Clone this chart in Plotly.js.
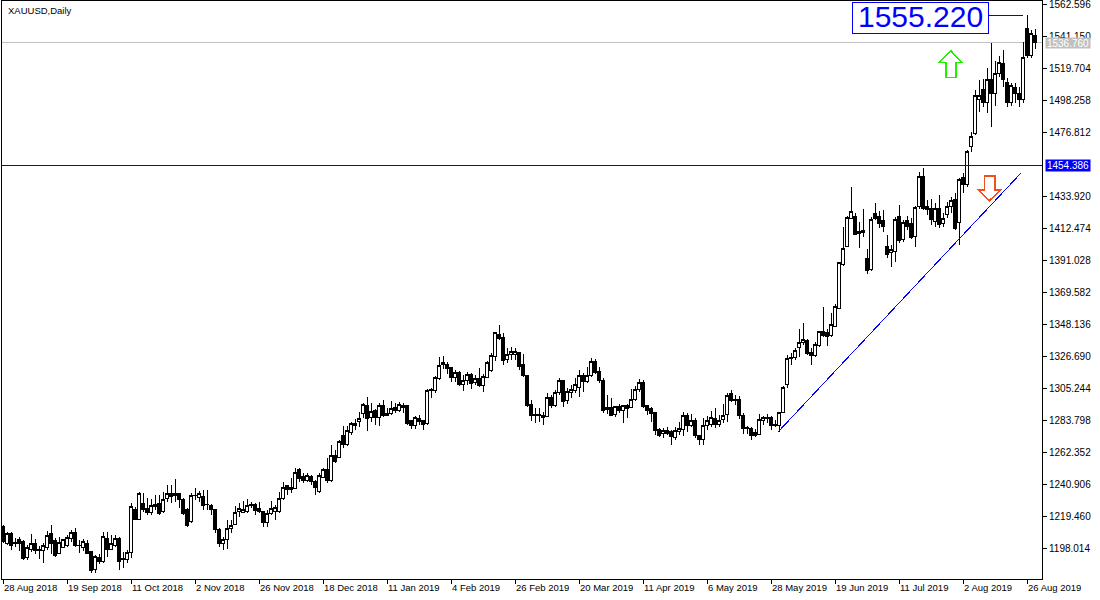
<!DOCTYPE html>
<html><head><meta charset="utf-8">
<script src="https://cdn.plot.ly/plotly-3.0.1.min.js"></script>
<style>
html,body{margin:0;padding:0;background:#fff;}
#chart{width:1100px;height:600px;}
#chart svg path{shape-rendering:crispEdges;}
</style>
</head><body><div id="chart"></div>
<script>
// XAUUSD daily candles, bar 0 = 28 Aug 2018
const openP = [
1212.3,1201.1,1207.4,1201.6,1203.8,1202.3,1191.8,1196.7,1200.7,1196.9,
1196.2,1198.5,1207.4,1202.9,1194.4,1198.5,1200.0,1204.5,1208.3,1200.0,
1198.5,1201.1,1195.6,1183.3,1191.5,1188.9,1204.5,1197.1,1200.0,1204.5,
1190.0,1190.0,1194.9,1223.9,1217.2,1228.0,1224.6,1221.7,1225.7,1228.0,
1222.4,1231.3,1234.6,1232.9,1234.6,1230.2,1223.9,1215.7,1232.9,1232.0,
1232.4,1227.0,1226.8,1223.5,1210.5,1201.1,1203.4,1211.2,1214.1,1222.4,
1221.7,1222.4,1227.5,1227.5,1224.6,1222.4,1215.0,1221.2,1222.4,1222.4,
1231.3,1239.6,1237.3,1238.0,1250.7,1245.8,1243.1,1245.8,1242.5,1235.8,
1245.4,1250.3,1243.1,1260.3,1258.8,1273.1,1267.7,1275.3,1280.4,1282.7,
1288.3,1293.8,1285.6,1290.0,1285.6,1293.8,1288.3,1288.3,1292.3,1290.5,
1292.3,1293.2,1283.4,1280.4,1284.9,1283.4,1281.6,1303.5,1303.5,1311.7,
1321.3,1321.3,1319.1,1312.4,1315.5,1307.3,1310.6,1314.6,1308.8,1311.7,
1306.6,1312.4,1316.9,1326.2,1340.8,1339.2,1324.5,1327.4,1328.0,1328.9,
1320.7,1313.9,1294.5,1287.8,1287.8,1286.5,1286.0,1299.0,1293.8,1302.1,
1310.2,1296.7,1302.1,1303.5,1305.7,1313.3,1309.5,1313.9,1322.9,1316.2,
1310.6,1291.0,1292.3,1287.8,1292.7,1290.0,1293.2,1292.3,1297.6,1304.4,
1308.8,1293.2,1291.6,1288.7,1277.1,1274.9,1276.6,1276.0,1272.2,1276.0,
1277.5,1286.5,1280.4,1283.8,1273.1,1270.8,1280.4,1281.1,1284.9,1281.1,
1284.2,1287.8,1301.7,1297.6,1297.6,1287.1,1278.9,1278.2,1275.3,1274.4,
1283.3,1285.0,1285.6,1279.8,1280.4,1288.7,1307.3,1325.1,1325.8,1332.5,
1335.6,1337.0,1328.9,1326.7,1333.4,1343.0,1342.3,1340.7,1346.3,1358.6,
1387.7,1400.4,1418.9,1420.5,1410.0,1410.7,1392.1,1384.8,1422.3,1420.5,
1417.4,1399.9,1395.9,1396.6,1420.5,1404.9,1417.4,1415.2,1406.7,1426.8,
1447.3,1427.2,1425.7,1416.7,1425.7,1415.6,1421.2,1426.8,1431.7,1416.0,
1446.4,1441.3,1467.4,1475.5,1498.7,1505.0,1496.5,1511.7,1502.3,1516.0,
1522.8,1509.9,1496.5,1506.7,1502.3,1498.3,1546.3,1527.8,1541.8
];
const highP = [
1213.4,1209.0,1209.0,1204.5,1205.2,1203.4,1200.0,1207.4,1203.8,1199.4,
1201.1,1209.6,1213.4,1204.5,1205.2,1203.8,1206.7,1210.1,1211.2,1203.4,
1203.8,1203.4,1196.2,1193.3,1194.0,1209.0,1209.0,1206.7,1206.7,1205.6,
1195.6,1196.7,1227.9,1225.7,1235.7,1234.6,1231.3,1230.6,1233.5,1233.5,
1235.8,1240.2,1240.2,1244.0,1235.0,1231.3,1224.6,1234.6,1238.0,1236.0,
1236.9,1236.9,1227.5,1223.9,1211.5,1205.6,1217.0,1216.8,1226.2,1227.9,
1229.7,1230.6,1229.1,1228.4,1229.1,1222.8,1223.5,1229.7,1226.8,1235.8,
1242.5,1240.0,1244.7,1251.4,1251.4,1248.0,1248.0,1246.9,1243.6,1248.5,
1251.4,1258.1,1267.0,1263.7,1270.4,1279.8,1279.8,1282.7,1284.2,1289.4,
1295.4,1299.0,1295.4,1290.9,1295.0,1297.2,1291.6,1296.7,1295.4,1296.1,
1295.4,1293.5,1283.8,1286.5,1287.1,1283.8,1304.4,1305.0,1313.0,1326.2,
1326.7,1322.9,1319.5,1317.3,1316.9,1313.9,1316.2,1315.5,1313.9,1318.4,
1314.6,1323.6,1328.9,1343.0,1347.5,1341.9,1331.8,1332.5,1331.8,1329.6,
1328.0,1314.0,1297.2,1291.6,1291.6,1289.4,1301.7,1300.5,1303.9,1311.7,
1310.6,1305.0,1307.3,1311.7,1317.3,1315.5,1319.1,1325.1,1324.5,1319.1,
1311.7,1300.5,1298.3,1292.8,1294.5,1293.8,1294.5,1304.4,1306.6,1311.0,
1310.6,1293.8,1292.7,1289.4,1278.2,1278.2,1279.3,1277.1,1279.3,1282.7,
1289.4,1288.3,1287.8,1284.9,1274.0,1284.9,1286.5,1290.0,1291.6,1287.1,
1294.5,1301.7,1303.9,1300.5,1299.9,1288.3,1279.8,1279.3,1277.5,1287.8,
1286.5,1287.8,1286.5,1283.8,1289.4,1306.6,1327.5,1328.9,1331.8,1344.6,
1348.6,1338.0,1331.8,1336.3,1343.6,1359.3,1344.6,1355.7,1361.5,1389.9,
1412.9,1420.5,1440.2,1422.3,1416.7,1425.0,1398.2,1419.6,1429.0,1424.1,
1424.5,1407.8,1401.1,1419.6,1427.9,1417.8,1420.5,1418.9,1427.2,1450.0,
1452.6,1431.2,1431.7,1429.0,1434.6,1422.3,1430.1,1433.5,1435.7,1445.8,
1449.1,1464.7,1477.0,1505.0,1511.7,1512.1,1519.5,1536.2,1524.6,1527.8,
1531.8,1512.8,1509.4,1509.4,1506.7,1537.4,1555.22,1545.2,1545.6
];
const lowP = [
1201.1,1200.0,1196.7,1198.5,1196.2,1190.0,1190.0,1195.6,1194.0,1190.4,
1188.2,1196.7,1194.0,1192.2,1194.0,1197.8,1198.5,1202.3,1198.5,1194.4,
1196.2,1194.0,1181.5,1181.0,1187.5,1188.2,1192.2,1196.7,1198.5,1183.3,
1184.4,1187.7,1191.1,1216.8,1216.8,1222.4,1220.1,1220.1,1223.5,1220.1,
1221.2,1229.1,1228.0,1229.1,1224.6,1220.1,1212.3,1214.5,1230.2,1229.0,
1223.5,1223.5,1220.1,1207.8,1199.0,1196.7,1197.5,1207.8,1213.4,1219.0,
1221.2,1221.2,1224.6,1220.1,1221.2,1212.3,1212.3,1220.1,1216.8,1221.7,
1230.2,1233.5,1234.6,1237.3,1242.5,1241.3,1242.5,1240.2,1233.5,1235.1,
1244.7,1241.8,1242.5,1255.2,1258.1,1264.8,1266.4,1273.7,1277.1,1278.9,
1284.9,1276.6,1282.7,1280.4,1279.8,1286.0,1287.0,1287.1,1288.7,1289.4,
1288.7,1280.4,1277.5,1277.5,1280.4,1277.1,1280.4,1298.3,1302.0,1310.6,
1317.8,1314.6,1309.5,1309.5,1306.6,1303.5,1307.3,1304.4,1307.3,1305.7,
1302.8,1311.7,1316.2,1323.6,1337.4,1320.7,1321.8,1324.0,1324.0,1317.3,
1312.8,1292.7,1283.4,1281.6,1282.7,1280.4,1285.6,1291.6,1292.7,1300.5,
1292.7,1294.5,1298.3,1301.7,1299.0,1302.8,1308.8,1312.8,1314.6,1308.8,
1288.3,1287.8,1286.5,1286.0,1288.3,1281.6,1284.9,1291.6,1296.7,1302.8,
1291.6,1287.1,1282.7,1273.7,1272.6,1271.5,1273.7,1267.0,1270.4,1273.7,
1273.1,1276.0,1279.3,1272.0,1267.0,1267.0,1277.1,1279.3,1278.2,1279.3,
1281.6,1282.7,1296.1,1293.8,1284.2,1274.4,1274.4,1270.4,1272.6,1273.7,
1280.4,1282.0,1277.1,1279.3,1276.0,1288.3,1305.0,1320.6,1324.0,1326.2,
1334.1,1327.4,1320.6,1326.2,1332.9,1339.6,1333.4,1339.6,1345.9,1357.9,
1387.0,1399.9,1418.3,1407.8,1398.8,1406.7,1381.6,1383.9,1417.8,1412.2,
1410.0,1392.1,1386.1,1389.9,1402.2,1403.3,1411.1,1404.9,1399.9,1425.0,
1424.5,1421.2,1414.5,1413.4,1412.2,1413.4,1419.0,1422.3,1411.1,1401.1,
1435.7,1440.2,1463.6,1474.8,1490.4,1493.8,1489.3,1480.4,1494.2,1513.9,
1506.7,1493.3,1494.2,1496.0,1493.3,1496.0,1526.2,1526.2,1532.2
];
const closeP = [
1202.3,1207.4,1200.0,1201.2,1201.1,1191.1,1198.5,1200.7,1196.2,1196.5,
1200.0,1206.7,1201.1,1193.3,1201.6,1203.4,1205.2,1208.3,1199.4,1199.6,
1202.3,1194.4,1182.8,1192.2,1188.9,1206.0,1196.7,1201.1,1204.5,1188.9,
1191.1,1194.9,1225.7,1217.2,1234.6,1223.5,1222.0,1226.2,1227.5,1221.2,
1230.6,1234.6,1232.4,1234.6,1230.2,1221.2,1212.8,1233.5,1233.5,1234.6,
1226.8,1227.5,1223.5,1210.1,1201.1,1203.4,1211.2,1213.4,1221.7,1224.6,
1223.9,1226.2,1226.2,1223.0,1222.4,1215.0,1221.2,1224.6,1225.0,1231.3,
1238.7,1237.3,1238.7,1248.5,1244.7,1243.1,1246.3,1242.5,1238.7,1246.3,
1250.3,1243.1,1260.3,1255.9,1269.3,1267.7,1276.6,1281.6,1281.6,1284.9,
1294.5,1284.9,1289.4,1285.6,1293.8,1286.5,1287.1,1291.6,1290.0,1294.5,
1293.8,1281.6,1279.8,1285.6,1282.7,1281.1,1303.5,1304.4,1312.4,1320.0,
1322.2,1318.4,1312.4,1315.5,1307.3,1310.6,1314.6,1308.4,1311.7,1306.6,
1312.8,1322.2,1326.7,1342.3,1338.5,1323.6,1328.0,1329.6,1329.6,1319.5,
1313.3,1293.8,1286.5,1286.5,1286.5,1285.6,1299.0,1293.2,1302.1,1310.2,
1296.1,1302.8,1304.4,1307.3,1313.3,1309.5,1313.9,1322.9,1315.5,1310.2,
1290.5,1292.3,1287.1,1292.7,1290.0,1293.2,1291.6,1297.6,1304.4,1308.8,
1292.7,1290.5,1288.3,1276.6,1273.7,1276.6,1274.9,1272.6,1276.6,1278.2,
1286.5,1279.8,1283.8,1273.1,1270.8,1279.8,1283.3,1285.6,1281.1,1283.8,
1286.5,1300.5,1296.8,1296.8,1286.5,1278.2,1278.2,1273.7,1273.7,1284.2,
1285.6,1285.6,1279.8,1281.1,1288.7,1305.7,1325.1,1325.8,1330.7,1335.6,
1338.0,1328.5,1326.7,1334.1,1343.0,1340.7,1339.6,1347.5,1360.2,1389.2,
1398.8,1419.6,1423.4,1408.4,1408.9,1409.3,1383.9,1418.3,1418.9,1415.2,
1413.8,1395.0,1398.2,1418.3,1404.0,1416.0,1413.8,1406.2,1426.3,1447.3,
1425.7,1425.0,1418.3,1425.7,1414.5,1419.0,1426.8,1431.2,1412.2,1445.1,
1441.3,1463.6,1474.1,1501.6,1501.6,1496.5,1512.1,1502.3,1516.0,1523.5,
1511.7,1496.5,1508.3,1502.3,1498.3,1526.9,1527.8,1543.0,1536.76
];
const dateTickBars = [0,16,32,48,64,80,96,112,128,144,160,176,192,208,224,240,256];
const dateTickLabels = ["28 Aug 2018","19 Sep 2018","11 Oct 2018","2 Nov 2018","26 Nov 2018","18 Dec 2018","11 Jan 2019","4 Feb 2019","26 Feb 2019","20 Mar 2019","11 Apr 2019","6 May 2019","28 May 2019","19 Jun 2019","11 Jul 2019","2 Aug 2019","26 Aug 2019"];
// 1455.366 is hidden behind the level label in the reference
const priceTicks = [1198.014,1219.460,1240.906,1262.352,1283.798,1305.244,1326.690,1348.136,1369.582,1391.028,1412.474,1433.920,1476.812,1498.258,1519.704,1541.150,1562.596];
const priceTickLabels = ["1198.014","1219.460","1240.906","1262.352","1283.798","1305.244","1326.690","1348.136","1369.582","1391.028","1412.474","1433.920","1476.812","1498.258","1519.704","1541.150","1562.596"];
const symbolTitle = "XAUUSD,Daily";
const levelPrice = 1454.386;
const bidPrice = 1536.760;
const peakPrice = 1555.220;
const trendBars = [193.75, 254.5];
const trendPrices = [1275.76, 1449.33];

const barIndex = openP.map((_, i) => i);
const FONT = 'Liberation Sans, Arial, sans-serif';
const BLUE = '#0000ff';

const upArrow = 'M 236.925,1531.3 L 239.675,1523.26 L 238.25,1523.26 L 238.25,1513.47 L 235.675,1513.47 L 235.675,1523.26 L 234.0,1523.26 Z';
const downArrow = 'M 245.325,1447.32 L 248.0,1447.32 L 248.0,1437.94 L 249.425,1437.94 L 246.575,1430.77 L 243.825,1437.94 L 245.325,1437.94 Z';

const trace = {
  type: 'candlestick', x: barIndex, open: openP, high: highP, low: lowP, close: closeP,
  increasing: {line: {color: '#000', width: 1}, fillcolor: '#ffffff'},
  decreasing: {line: {color: '#000', width: 1}, fillcolor: '#000000'},
  whiskerwidth: 0, hoverinfo: 'skip', showlegend: false
};

const layout = {
  width: 1100, height: 600,
  margin: {l: 2, r: 58, t: 1, b: 21, pad: 0},
  paper_bgcolor: '#ffffff', plot_bgcolor: '#ffffff',
  showlegend: false,
  boxgap: 0.25,
  xaxis: {
    type: 'linear', range: [-0.25, 259.75], fixedrange: true,
    tickvals: dateTickBars, ticktext: dateTickLabels,
    ticks: 'outside', ticklen: 4, tickwidth: 1, tickcolor: '#000',
    ticklabelposition: 'outside right',
    showline: true, linecolor: '#000', linewidth: 1, mirror: true,
    showgrid: false, zeroline: false,
    rangeslider: {visible: false},
    tickfont: {family: FONT, size: 9.5, color: '#000'}
  },
  yaxis: {
    range: [1177.237, 1564.607], side: 'right', fixedrange: true,
    tickvals: priceTicks, ticktext: priceTickLabels,
    ticks: 'outside', ticklen: 4, tickwidth: 1, tickcolor: '#000',
    ticklabeloverflow: 'allow',
    showline: true, linecolor: '#000', linewidth: 1, mirror: true,
    showgrid: false, zeroline: false,
    tickfont: {family: FONT, size: 10, color: '#000'}
  },
  shapes: [
    {type: 'line', xref: 'paper', x0: 0, x1: 1, yref: 'y', y0: bidPrice, y1: bidPrice, line: {color: '#c0c0c0', width: 1}, layer: 'below'},
    {type: 'line', xref: 'paper', x0: 0, x1: 1, yref: 'y', y0: levelPrice, y1: levelPrice, line: {color: BLUE, width: 1}},
    {type: 'line', xref: 'x', yref: 'y', x0: trendBars[0], y0: trendPrices[0], x1: trendBars[1], y1: trendPrices[1], line: {color: BLUE, width: 1}},
    {type: 'rect', xref: 'x', yref: 'y', x0: 212.25, x1: 246.25, y0: 1542.96, y1: 1563.47, line: {color: BLUE, width: 1}, fillcolor: 'rgba(0,0,0,0)'},
    {type: 'line', xref: 'x', yref: 'y', x0: 246.25, x1: 255.0, y0: peakPrice, y1: peakPrice, line: {color: BLUE, width: 1}},
    {type: 'path', xref: 'x', yref: 'y', path: upArrow, line: {color: '#22ee00', width: 1.6}, fillcolor: '#ffffff'},
    {type: 'path', xref: 'x', yref: 'y', path: downArrow, line: {color: '#f0501e', width: 1.6}, fillcolor: '#ffffff'}
  ],
  annotations: [
    {xref: 'paper', yref: 'paper', x: 0.0038, y: 0.9965, xanchor: 'left', yanchor: 'top', text: symbolTitle, showarrow: false, font: {family: FONT, size: 9.5, color: '#000'}},
    {xref: 'x', yref: 'y', x: 229.25, y: 1554.4, xanchor: 'center', yanchor: 'middle', text: peakPrice.toFixed(3), showarrow: false, font: {family: FONT, size: 30, color: BLUE}},
    {xref: 'paper', yref: 'y', x: 1.0029, y: bidPrice, xanchor: 'left', yanchor: 'middle', text: bidPrice.toFixed(3), showarrow: false, bgcolor: '#c0c0c0', borderpad: 0, width: 44, height: 10, font: {family: FONT, size: 10, color: '#ffffff'}},
    {xref: 'paper', yref: 'y', x: 1.0029, y: levelPrice, xanchor: 'left', yanchor: 'middle', text: levelPrice.toFixed(3), showarrow: false, bgcolor: BLUE, borderpad: 0, width: 44, height: 11, font: {family: FONT, size: 10, color: '#ffffff'}}
  ]
};

Plotly.newPlot('chart', [trace], layout, {staticPlot: true, displayModeBar: false});
</script>
</body></html>
